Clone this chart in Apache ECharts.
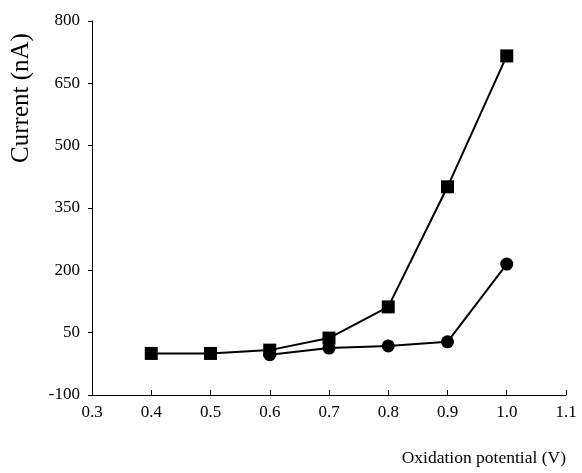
<!DOCTYPE html>
<html>
<head>
<meta charset="utf-8">
<script src="https://cdn.jsdelivr.net/npm/echarts@6/dist/echarts.min.js"></script>
<style>html,body{margin:0;padding:0;background:#fff}#c{width:582px;height:473px}</style>
</head>
<body>
<div id="c"></div>
<script>
const potentials = [0.4, 0.5, 0.6, 0.7, 0.8, 0.9, 1.0];
const squareSeries = [0, 0, 8, 37, 112, 401, 716];
const circleX = [0.6, 0.7, 0.8, 0.9, 1.0];
const circleSeries = [-3, 13, 18, 28, 215];
const yTicks = [-100, 50, 200, 350, 500, 650, 800];

const font = 'Liberation Serif, Times New Roman, serif';
const chart = echarts.init(document.getElementById('c'));
chart.setOption({
  animation: false,
  backgroundColor: '#fff',
  grid: {left: 92, right: 16, top: 21, bottom: 78},
  xAxis: {
    type: 'value', min: 0.3, max: 1.1, interval: 0.1,
    axisLine: {onZero: false, lineStyle: {color: '#000', width: 1}},
    axisTick: {inside: true, length: 5, lineStyle: {color: '#000'}},
    axisLabel: {color: '#000', fontFamily: font, fontSize: 17, margin: 9,
      formatter: v => v.toFixed(1)},
    splitLine: {show: false}
  },
  yAxis: {
    type: 'value', min: yTicks[0], max: yTicks[yTicks.length - 1], interval: 150,
    axisLine: {show: true, lineStyle: {color: '#000', width: 1}},
    axisTick: {show: true, length: 4, lineStyle: {color: '#000'}},
    axisLabel: {color: '#000', fontFamily: font, fontSize: 17, margin: 12},
    splitLine: {show: false}
  },
  graphic: [
    {type: 'text', x: 21, y: 98, rotation: Math.PI / 2,
      style: {text: 'Current (nA)', font: '25px ' + font, fill: '#000',
        textAlign: 'center', textVerticalAlign: 'middle'}},
    {type: 'text', right: 16, top: 449,
      style: {text: 'Oxidation potential (V)', font: '17.5px ' + font, fill: '#000'}}
  ],
  series: [
    {type: 'line', data: potentials.map((x, i) => [x, squareSeries[i]]),
      symbol: 'rect', symbolSize: 13,
      lineStyle: {color: '#000', width: 2}, itemStyle: {color: '#000'}},
    {type: 'line', data: circleX.map((x, i) => [x, circleSeries[i]]),
      symbol: 'circle', symbolSize: 13,
      lineStyle: {color: '#000', width: 2}, itemStyle: {color: '#000'}}
  ]
});
</script>
</body>
</html>
